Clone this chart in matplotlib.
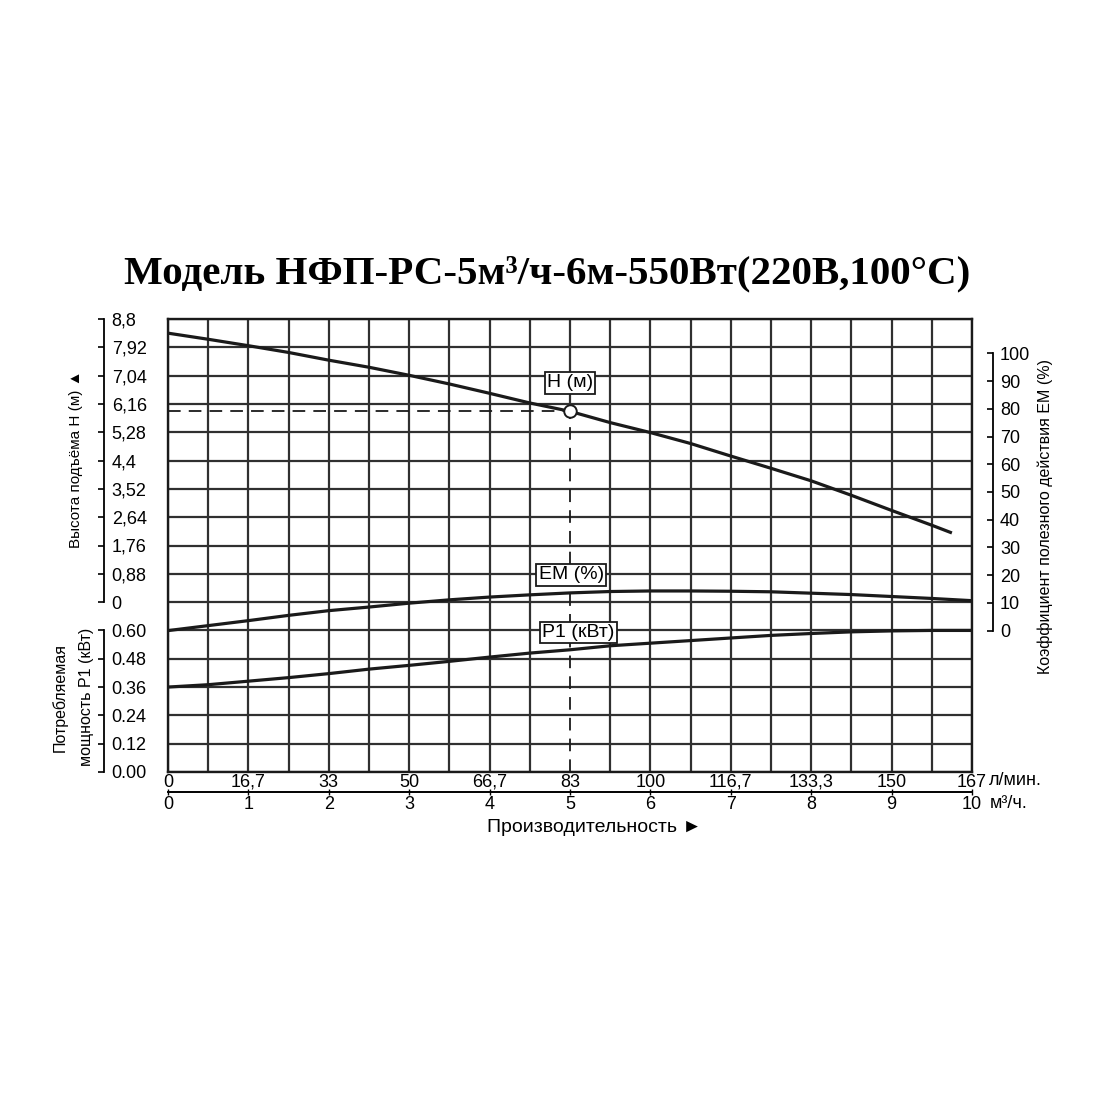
import matplotlib
matplotlib.use("Agg")
import matplotlib.pyplot as plt
from matplotlib.ticker import MultipleLocator

plt.rcParams['font.family'] = ['Liberation Sans', 'DejaVu Sans']

# flow, m3/h
flow = [0, 0.5, 1, 1.5, 2, 2.5, 3, 3.5, 4, 4.5, 5, 5.5, 6, 6.5, 7, 7.5, 8, 8.5, 9, 9.5, 10]
# head H, m (curve stops at 9.75 m3/h)
flow_h = [0, 0.5, 1, 1.5, 2, 2.5, 3, 3.5, 4, 4.5, 5, 5.5, 6, 6.5, 7, 7.5, 8, 8.5, 9, 9.5, 9.75]
head = [8.36, 8.17, 7.97, 7.76, 7.52, 7.30, 7.05, 6.78, 6.49, 6.19, 5.93,
        5.58, 5.27, 4.93, 4.54, 4.16, 3.77, 3.32, 2.85, 2.39, 2.15]
# efficiency EM, %
em = [0, 1.8, 3.6, 5.5, 7.2, 8.5, 9.9, 11.1, 12.1, 12.9, 13.6,
      14.1, 14.3, 14.3, 14.2, 14.0, 13.5, 13.0, 12.3, 11.6, 10.8]
# power P1, kW
p1 = [0.36, 0.37, 0.385, 0.40, 0.417, 0.436, 0.452, 0.469, 0.487, 0.504, 0.518,
      0.535, 0.546, 0.557, 0.568, 0.579, 0.587, 0.594, 0.598, 0.60, 0.60]

# operating point
q_op = 5
h_op = 5.93

h_ticks = [0, 0.88, 1.76, 2.64, 3.52, 4.4, 5.28, 6.16, 7.04, 7.92, 8.8]
h_labels = ['0', '0,88', '1,76', '2,64', '3,52', '4,4', '5,28', '6,16', '7,04', '7,92', '8,8']
p_ticks = [0, 0.12, 0.24, 0.36, 0.48, 0.60]
p_labels = ['0.00', '0.12', '0.24', '0.36', '0.48', '0.60']
em_ticks = [0, 10, 20, 30, 40, 50, 60, 70, 80, 90, 100]
q_ticks = [0, 1, 2, 3, 4, 5, 6, 7, 8, 9, 10]
q_labels = ['0', '1', '2', '3', '4', '5', '6', '7', '8', '9', '10']
lmin_labels = ['0', '16,7', '33', '50', '66,7', '83', '100', '116,7', '133,3', '150', '167']

INK = '#1a1a1a'
GRID = '#303030'
FS = 13

fig = plt.figure(figsize=(11, 11), dpi=100)
ax = fig.add_axes([168 / 1100, 1 - 772 / 1100, 804 / 1100, 453 / 1100])

# frame + grid
ax.set_xlim(0, 10)
ax.set_ylim(-5.28, 8.8)
ax.xaxis.set_major_locator(MultipleLocator(0.5))
ax.yaxis.set_major_locator(MultipleLocator(0.88))
ax.tick_params(length=0, labelbottom=False, labelleft=False)
ax.grid(True, color=GRID, lw=1.6)
for s in ax.spines.values():
    s.set_linewidth(1.7)
    s.set_color(INK)

# below the operating point the grid line at q_op is replaced by the dashed guide
x_locs = list(ax.get_xticks())
x_major = ax.xaxis.get_major_ticks(len(x_locs))
x_major[x_locs.index(q_op)].gridline.set_visible(False)
ax.vlines(q_op, h_op, ax.get_ylim()[1], colors=GRID, lw=1.6)


def bare_twin():
    t = ax.twinx()
    for s in t.spines.values():
        s.set_visible(False)
    return t


# H axis (spine left of the plot, labels to its right)
ax_h = bare_twin()
ax_h.set_ylim(ax.get_ylim())
ax_h.spines['right'].set_visible(True)
ax_h.spines['right'].set_position(('axes', -64 / 804))
ax_h.spines['right'].set_bounds(0, 8.8)
ax_h.spines['right'].set_linewidth(1.3)
ax_h.set_yticks(h_ticks, h_labels)
ax_h.tick_params(axis='y', direction='in', length=4, width=1.2, pad=5.5, labelsize=FS)

# P1 axis
ax_p = bare_twin()
ax_p.set_ylim(0, 1.92)
ax_p.spines['right'].set_visible(True)
ax_p.spines['right'].set_position(('axes', -64 / 804))
ax_p.spines['right'].set_bounds(0, 0.6)
ax_p.spines['right'].set_linewidth(1.3)
ax_p.set_yticks(p_ticks, p_labels)
ax_p.tick_params(axis='y', direction='in', length=4, width=1.2, pad=5.5, labelsize=FS)

# EM axis on the right
ax_em = bare_twin()
ax_em.set_ylim(-51, 112.4)
ax_em.spines['right'].set_visible(True)
ax_em.spines['right'].set_position(('axes', 1 + 21 / 804))
ax_em.spines['right'].set_bounds(0, 100)
ax_em.spines['right'].set_linewidth(1.3)
ax_em.set_yticks(em_ticks)
ax_em.tick_params(axis='y', direction='in', length=4, width=1.2, pad=5, labelsize=FS)

# curves
ax_h.plot(flow_h, head, color=INK, lw=2.3, solid_capstyle='butt')
ax_em.plot(flow, em, color=INK, lw=2.3)
ax_p.plot(flow, p1, color=INK, lw=2.3)

# operating point with dashed guides
ax_h.hlines(h_op, 0, q_op, colors=INK, lw=1.3, linestyles=(0, (7, 4.5)))
ax_h.vlines(q_op, ax_h.get_ylim()[0], h_op, colors=INK, lw=1.3, linestyles=(0, (7, 4.5)))
ax_h.plot([q_op], [h_op], 'o', ms=9, mfc='white', mec=INK, mew=1.4, zorder=5)

box = dict(boxstyle='square,pad=0.12', fc='white', ec=INK, lw=1.3)
ax_h.annotate('Н (м)', xy=(q_op, h_op), xytext=(0, 20.5), textcoords='offset points',
              ha='center', va='center', fontsize=14, bbox=box)
i_op = flow.index(q_op)
ax_em.annotate('ЕМ (%)', xy=(q_op, em[i_op]), xytext=(1, 13), textcoords='offset points',
               ha='center', va='center', fontsize=14, bbox=box, zorder=6)
ax_p.annotate('Р1 (кВт)', xy=(q_op, p1[i_op]), xytext=(6, 12.5), textcoords='offset points',
              ha='center', va='center', fontsize=14, bbox=box, zorder=6)

# flow axes below the frame
loc = -20 / 453
sec_q = ax.secondary_xaxis(loc)
sec_q.set_xticks(q_ticks, q_labels)
sec_q.tick_params(axis='x', direction='inout', length=4, width=1.0, pad=1.0, labelsize=FS)
sec_q.spines['bottom'].set_linewidth(1.4)

sec_l = ax.secondary_xaxis(loc)
sec_l.set_alignment('top')
sec_l.set_xticks(q_ticks, lmin_labels)
sec_l.tick_params(axis='x', length=0, pad=1.0, labelsize=FS)
for s in sec_l.spines.values():
    s.set_visible(False)

ax.annotate('л/мин.', xy=(1, loc), xycoords='axes fraction', xytext=(12, 8),
            textcoords='offset points', ha='left', va='center', fontsize=FS)
ax.annotate('м³/ч.', xy=(1, loc), xycoords='axes fraction', xytext=(13, -8),
            textcoords='offset points', ha='left', va='center', fontsize=FS)

# labels and title
fig.text(594 / 1100, 1 - 827 / 1100, 'Производительность ►', ha='center', va='center',
         fontsize=14)
fig.text(76 / 1100, 1 - 459 / 1100, 'Высота подъёма Н (м) ▲', rotation=90,
         ha='center', va='center', fontsize=11)
fig.text(73 / 1100, 1 - 697 / 1100, 'Потребляемая\nмощность Р1 (кВт)', rotation=90,
         ha='center', va='center', multialignment='center', linespacing=1.9, fontsize=11.5)
fig.text(1045 / 1100, 1 - 516 / 1100, 'Коэффициент полезного действия ЕМ (%)', rotation=90,
         ha='center', va='center', fontsize=11.5)
fig.text(547 / 1100, 1 - 283 / 1100, 'Модель НФП-РС-5м³/ч-6м-550Вт(220В,100°С)',
         ha='center', va='baseline', fontsize=29.5, fontweight='bold',
         family=['Liberation Serif', 'DejaVu Serif'])

fig.savefig('out.png', dpi=100, facecolor='white')
